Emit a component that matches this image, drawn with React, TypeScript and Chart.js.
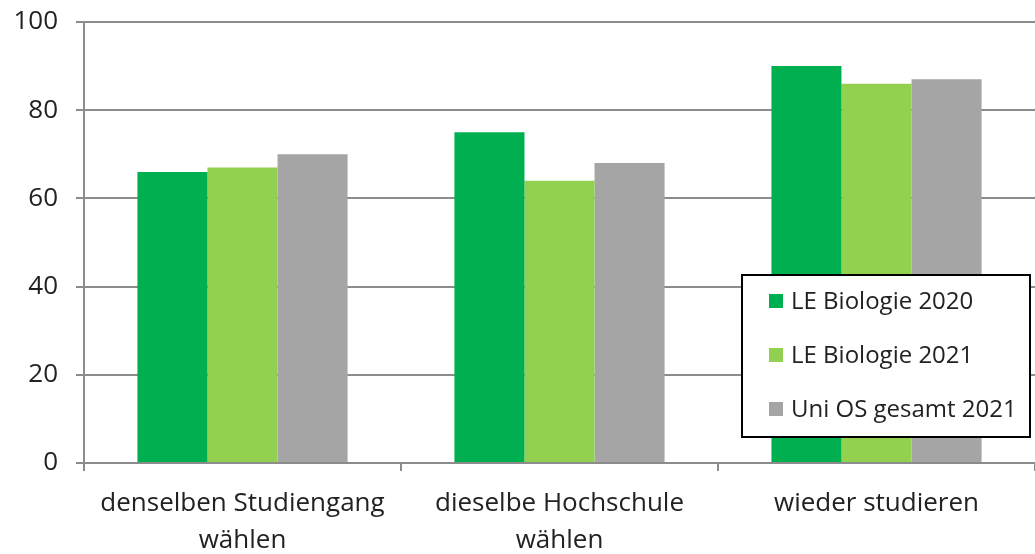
import React, { useEffect, useRef } from "react";
import { Chart, registerables } from "chart.js";

Chart.register(...registerables);

const categories: (string | string[])[] = [
  ["denselben Studiengang", "wählen"],
  ["dieselbe Hochschule", "wählen"],
  "wieder studieren",
];
const seriesLabels = ["LE Biologie 2020", "LE Biologie 2021", "Uni OS gesamt 2021"];
const bio2020 = [66, 75, 90];
const bio2021 = [67, 64, 86];
const uniOS2021 = [70, 68, 87];
const colors = ["#00B050", "#92D050", "#A5A5A5"];
const yTicks = [0, 20, 40, 60, 80, 100];

const FONT = "'Open Sans', Lato, sans-serif";
const GRID = "#8C8C8C";

const boxLegend = {
  id: "boxLegend",
  afterDraw(chart: any) {
    const ctx = chart.ctx as CanvasRenderingContext2D;
    const ca = chart.chartArea;
    const x = ca.right - 293;
    const y = ca.bottom - 188;
    const w = 288;
    const h = 162;
    ctx.save();
    ctx.fillStyle = "#ffffff";
    ctx.fillRect(x, y, w, h);
    ctx.lineWidth = 2;
    ctx.strokeStyle = "#000000";
    ctx.strokeRect(x, y, w, h);
    ctx.font = `24px ${FONT}`;
    ctx.textBaseline = "middle";
    ctx.textAlign = "left";
    chart.data.datasets.forEach((ds: any, i: number) => {
      const cy = y + 26 + i * 54;
      ctx.fillStyle = ds.backgroundColor;
      ctx.fillRect(x + 27, cy - 7, 14, 14);
      ctx.fillStyle = "#222222";
      ctx.fillText(ds.label, x + 49, cy + 1);
    });
    ctx.restore();
  },
};

export default function App() {
  const ref = useRef<HTMLCanvasElement>(null);
  useEffect(() => {
    if (!ref.current) return;
    const data = [bio2020, bio2021, uniOS2021];
    const chart = new Chart(ref.current, {
      type: "bar",
      data: {
        labels: categories,
        datasets: data.map((d, i) => ({
          label: seriesLabels[i],
          data: d,
          backgroundColor: colors[i],
          borderWidth: 0,
          categoryPercentage: 0.663,
          barPercentage: 1,
        })),
      },
      options: {
        animation: false,
        responsive: true,
        maintainAspectRatio: false,
        layout: { padding: { top: 22, right: 0, left: 0, bottom: 0 } },
        plugins: {
          legend: { display: false },
          tooltip: { enabled: false },
        },
        scales: {
          x: {
            grid: {
              offset: true,
              drawOnChartArea: false,
              drawTicks: true,
              tickLength: 8,
              color: GRID,
              lineWidth: 2,
            },
            border: { color: GRID, width: 2 },
            ticks: {
              color: "#222222",
              font: { family: FONT, size: 26, lineHeight: 1.42 },
              padding: 14,
              maxRotation: 0,
              autoSkip: false,
            },
            afterFit(scale: any) {
              scale.height = 91;
            },
          },
          y: {
            min: 0,
            max: 100,
            afterBuildTicks(scale: any) {
              scale.ticks = yTicks.map((v) => ({ value: v }));
            },
            grid: {
              color: GRID,
              lineWidth: 2,
              tickLength: 8,
              drawTicks: true,
            },
            border: { color: GRID, width: 2 },
            ticks: {
              color: "#222222",
              font: { family: FONT, size: 26 },
              padding: 18,
            },
            afterFit(scale: any) {
              scale.width = 84;
              scale.paddingTop = 0;
              scale.paddingBottom = 0;
            },
          },
        },
      },
      plugins: [boxLegend],
    });
    return () => chart.destroy();
  }, []);
  return (
    <div style={{ position: "absolute", left: 0, top: 0, width: 1035, height: 554, background: "#fff" }}>
      <canvas ref={ref} />
    </div>
  );
}
